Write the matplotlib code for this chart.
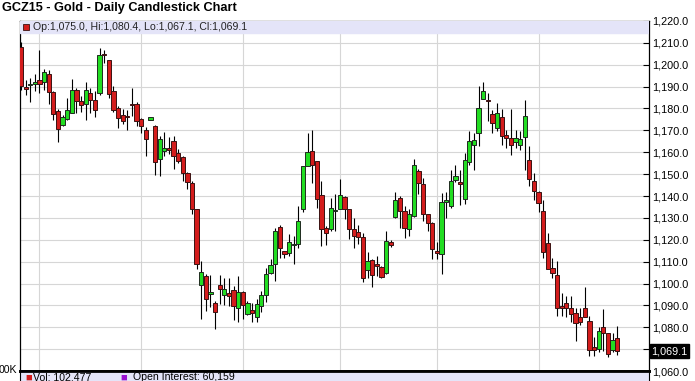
import numpy as np
import matplotlib
matplotlib.use("Agg")
from matplotlib import pyplot as plt
from matplotlib.transforms import blended_transform_factory

# daily OHLC (oldest first)
opens = [1208.0, 1189.8, 1190.8, 1191.1, 1192.8, 1192.3, 1195.7, 1187.5, 1179.0, 1172.6,
         1175.2, 1177.9, 1188.3, 1183.5, 1182.2, 1187.0, 1183.7, 1187.0, 1204.5, 1202.2,
         1188.1, 1180.2, 1176.9, 1176.0, 1181.5, 1182.2, 1175.2, 1170.3, 1174.9, 1171.8,
         1157.0, 1160.4, 1161.2, 1165.0, 1159.7, 1157.9, 1150.6, 1146.0, 1134.2, 1099.5,
         1103.5, 1095.1, 1090.9, 1099.2, 1094.8, 1095.6, 1097.1, 1088.8, 1095.9, 1086.0,
         1088.0, 1084.9, 1089.5, 1094.7, 1104.7, 1108.8, 1125.8, 1114.9, 1114.1, 1117.4,
         1117.9, 1133.9, 1153.9, 1160.5, 1155.9, 1140.4, 1125.5, 1125.0, 1133.2, 1134.2,
         1139.6, 1133.9, 1125.0, 1123.7, 1121.4, 1106.2, 1110.8, 1108.2, 1107.6, 1105.0,
         1119.1, 1130.5, 1139.1, 1133.1, 1124.7, 1130.8, 1151.3, 1145.6, 1131.9, 1127.8,
         1114.8, 1113.3, 1137.4, 1135.4, 1147.1, 1145.6, 1138.7, 1155.6, 1163.2, 1168.8,
         1184.4, 1183.4, 1177.5, 1171.1, 1175.9, 1167.7, 1166.5, 1164.5, 1163.5, 1166.8,
         1156.6, 1146.8, 1141.9, 1133.1, 1118.4, 1107.3, 1103.9, 1089.8, 1091.3, 1089.0,
         1086.3, 1084.5, 1088.6, 1082.9, 1070.8, 1070.0, 1080.2, 1077.2, 1069.6, 1075.0]
highs = [1210.6, 1193.1, 1193.9, 1195.7, 1206.8, 1198.0, 1197.7, 1187.8, 1179.7, 1177.2,
         1184.8, 1193.4, 1189.3, 1185.5, 1192.0, 1189.3, 1187.8, 1207.5, 1206.8, 1202.2,
         1190.4, 1181.0, 1179.7, 1179.4, 1189.3, 1182.8, 1175.6, 1171.5, 1176.1, 1172.6,
         1167.3, 1169.1, 1167.0, 1167.3, 1161.5, 1158.5, 1150.9, 1146.8, 1134.2, 1110.5,
         1104.2, 1104.0, 1092.0, 1104.0, 1102.5, 1102.5, 1098.9, 1103.6, 1096.6, 1092.1,
         1091.3, 1092.8, 1096.6, 1107.3, 1111.1, 1125.5, 1126.6, 1114.9, 1122.5, 1121.7,
         1135.4, 1153.6, 1168.8, 1170.3, 1155.9, 1146.8, 1126.3, 1139.2, 1140.7, 1147.8,
         1139.9, 1134.2, 1130.1, 1126.6, 1123.2, 1114.4, 1111.4, 1112.6, 1108.0, 1124.0,
         1120.0, 1141.8, 1139.9, 1135.4, 1134.2, 1156.9, 1152.4, 1148.3, 1132.0, 1128.1,
         1119.0, 1141.4, 1141.7, 1152.1, 1154.4, 1152.1, 1159.7, 1169.6, 1168.8, 1190.4,
         1191.9, 1187.0, 1179.4, 1182.5, 1179.7, 1170.3, 1179.7, 1170.0, 1169.6, 1183.7,
         1163.0, 1150.3, 1142.5, 1138.4, 1123.2, 1111.8, 1110.3, 1095.6, 1094.4, 1094.1,
         1088.6, 1088.6, 1098.2, 1085.2, 1075.4, 1079.9, 1088.3, 1077.5, 1077.2, 1080.4]
lows = [1188.6, 1186.3, 1182.8, 1187.8, 1187.3, 1188.3, 1182.2, 1174.9, 1164.5, 1171.8,
        1174.9, 1177.9, 1177.9, 1178.2, 1174.6, 1177.9, 1176.1, 1186.3, 1201.0, 1184.8,
        1178.2, 1171.1, 1173.0, 1170.3, 1176.4, 1171.8, 1168.8, 1158.5, 1174.9, 1149.4,
        1149.1, 1158.2, 1159.4, 1152.4, 1155.1, 1146.8, 1143.3, 1131.6, 1106.5, 1083.8,
        1087.5, 1089.3, 1079.3, 1090.5, 1090.0, 1089.8, 1083.5, 1082.5, 1083.7, 1085.5,
        1082.5, 1082.5, 1086.8, 1091.6, 1104.2, 1101.2, 1111.8, 1111.8, 1112.6, 1108.8,
        1116.4, 1132.6, 1153.6, 1146.0, 1134.6, 1117.2, 1117.5, 1124.0, 1124.0, 1133.9,
        1129.3, 1120.5, 1116.4, 1117.9, 1100.7, 1102.7, 1098.2, 1103.5, 1102.7, 1104.2,
        1116.5, 1130.1, 1125.5, 1120.9, 1121.7, 1130.5, 1140.7, 1128.5, 1124.0, 1111.4,
        1111.1, 1104.2, 1130.0, 1134.6, 1146.5, 1136.1, 1136.4, 1154.4, 1152.1, 1163.0,
        1184.3, 1174.1, 1168.8, 1169.6, 1163.5, 1162.0, 1158.9, 1162.0, 1161.2, 1152.1,
        1144.5, 1138.4, 1132.6, 1111.8, 1106.5, 1102.7, 1085.2, 1085.2, 1084.5, 1082.2,
        1073.8, 1081.0, 1084.5, 1067.0, 1067.0, 1068.8, 1069.3, 1066.2, 1068.8, 1067.1]
closes = [1190.4, 1188.9, 1191.3, 1192.0, 1191.3, 1196.5, 1187.5, 1177.6, 1170.6, 1175.9,
          1179.4, 1188.6, 1183.2, 1181.7, 1188.3, 1183.7, 1179.4, 1204.5, 1204.0, 1186.6,
          1179.4, 1175.6, 1174.1, 1175.7, 1181.2, 1174.4, 1171.8, 1166.1, 1176.1, 1155.4,
          1166.1, 1162.0, 1161.0, 1158.5, 1155.9, 1150.3, 1146.3, 1134.2, 1108.8, 1105.3,
          1093.1, 1095.9, 1086.8, 1097.7, 1097.4, 1094.1, 1089.5, 1095.9, 1090.1, 1091.0,
          1086.5, 1090.7, 1094.8, 1104.5, 1108.3, 1124.0, 1116.4, 1113.4, 1119.0, 1117.8,
          1128.5, 1153.6, 1160.1, 1154.4, 1138.7, 1125.0, 1123.2, 1134.6, 1133.6, 1140.4,
          1134.2, 1125.0, 1121.7, 1121.2, 1102.7, 1110.3, 1103.9, 1108.0, 1103.2, 1119.4,
          1117.6, 1138.4, 1133.1, 1125.5, 1131.9, 1154.1, 1146.0, 1132.0, 1127.5, 1115.9,
          1114.1, 1137.4, 1138.0, 1146.8, 1149.0, 1145.0, 1156.6, 1165.3, 1165.8, 1180.2,
          1187.8, 1183.2, 1173.4, 1177.9, 1167.6, 1166.5, 1163.5, 1166.5, 1166.2, 1176.7,
          1147.8, 1142.2, 1136.6, 1114.6, 1106.8, 1105.0, 1088.6, 1088.6, 1089.0, 1086.0,
          1081.9, 1082.2, 1084.9, 1069.6, 1069.6, 1078.4, 1077.2, 1067.8, 1074.2, 1069.1]

month_starts = [4, 26, 48, 69, 90, 112]   # first trading day of each month
last_vol = 102477
last_oi = 60159

FONT = "Liberation Sans"
plt.rcParams["font.family"] = [FONT, "DejaVu Sans"]

o = np.array(opens)
h = np.array(highs)
l = np.array(lows)
c = np.array(closes)
x = np.arange(len(o))
up = c >= o

fig = plt.figure(figsize=(6.95, 3.81), dpi=100)
ax = fig.add_axes([0.0281, 0.0262, 0.9058, 0.9187])

# grid
for v in np.arange(1060, 1221, 10):
    ax.axhline(v, color="#d6d6d6", lw=0.8, zorder=0)
for m in month_starts:
    ax.axvline(m, color="#d6d6d6", lw=0.8, zorder=0)

# candles
ax.vlines(x, l, h, color="black", lw=0.8, zorder=2)
body = np.where(np.abs(c - o) < 0.6, 0.6, c - o)
ax.bar(x[up], body[up], bottom=o[up], width=0.92, color="#22dd22",
       edgecolor="#1f2a1f", linewidth=0.7, zorder=3)
ax.bar(x[~up], body[~up], bottom=o[~up], width=0.92, color="#d41c1c",
       edgecolor="#3a1212", linewidth=0.7, zorder=3)

ax.set_xlim(-0.32, 135.9)
ax.set_ylim(1060, 1220)

# top info band
ax.axhspan(1214.4, 1220, color="#e4e4f8", zorder=4)
ax.plot([1.0], [1217.2], marker="s", ms=5, color="#d41c1c", mec="#3a1212", mew=0.6, zorder=5)
ax.text(2.6, 1217.2, "Op:1,075.0, Hi:1,080.4, Lo:1,067.1, Cl:1,069.1", fontsize=7.6,
        va="center", ha="left", color="#222222", zorder=5)

ax.set_xticks([])
ax.yaxis.tick_right()
ax.set_yticks(np.arange(1060, 1221, 10))
ax.set_yticklabels(["{:,.1f}".format(v) for v in np.arange(1060, 1221, 10)])
ax.tick_params(axis="y", direction="in", length=4.5, width=0.8, pad=2, labelsize=7.8)
for s in ax.spines.values():
    s.set_linewidth(0.9)
ax.spines["bottom"].set_linewidth(2)

# last price marker on the axis
tr = blended_transform_factory(ax.transAxes, ax.transData)
ax.text(1.004, c[-1], "{:,.1f}".format(c[-1]), transform=tr, fontsize=7.8, color="white",
        va="center", ha="left", zorder=10,
        bbox=dict(boxstyle="square,pad=0.15", fc="black", ec="black"))

# volume panel (only the legend strip is visible)
ax2 = fig.add_axes([0.0281, -0.06, 0.9058, 0.0862])
ax2.set_facecolor("#e4e4f8")
ax2.set_xticks([])
ax2.set_yticks([])
ax2.spines["top"].set_linewidth(2)
fig.text(25.5 / 695, 1 - 377.5 / 381, "\u25a0", color="#d41c1c", fontsize=8, va="center")
fig.text(33 / 695, 1 - 377.5 / 381, "Vol: {:,}".format(last_vol), fontsize=7.6, va="center")
fig.text(120 / 695, 1 - 377.5 / 381, "\u25a0", color="#9a10d0", fontsize=8, va="center")
fig.text(133 / 695, 1 - 377.5 / 381, "Open Interest: {:,}".format(last_oi), fontsize=7.6, va="center")
fig.text(17 / 695, 1 - 370 / 381, "00K", fontsize=7.6, va="center", ha="right")

fig.text(2 / 695, 1 - 8.5 / 381, "GCZ15 - Gold - Daily Candlestick Chart", fontsize=9.2,
         fontweight="bold", va="center", ha="left")

fig.savefig("out.png", dpi=100)
